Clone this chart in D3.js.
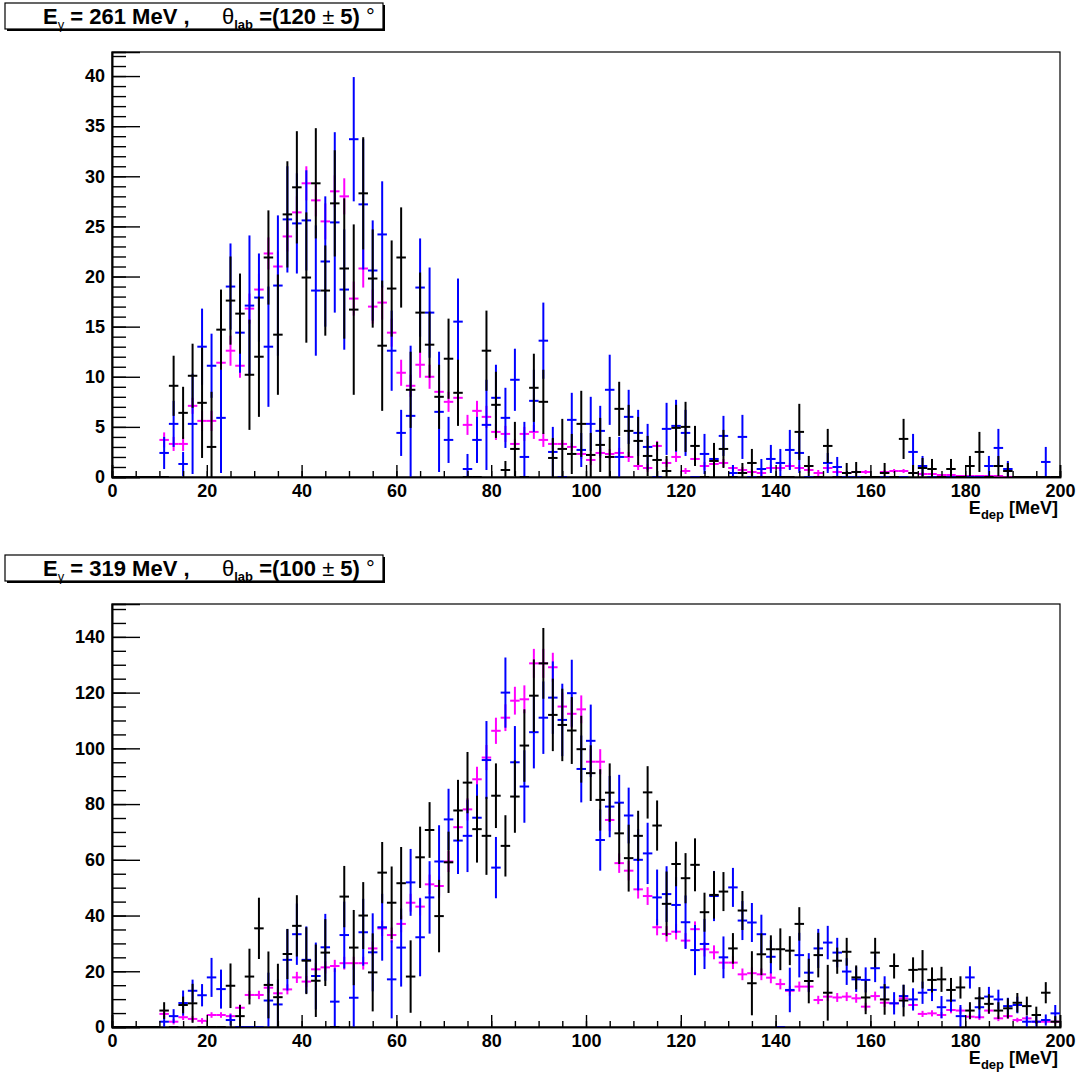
<!DOCTYPE html>
<html>
<head>
<meta charset="utf-8">
<script src="https://cdn.jsdelivr.net/npm/d3@7"></script>
<style>
  body { margin: 0; background: #fff; }
  svg { display: block; }
  text { white-space: pre; }
</style>
</head>
<body>
<script>
// ---- Histogram contents: 2 MeV bins, first filled bin centred at 11 MeV ----
const firstCenter = 11;
const binWidth = 2;

const xTicks = [0, 20, 40, 60, 80, 100, 120, 140, 160, 180, 200];
const topYTicks = [0, 5, 10, 15, 20, 25, 30, 35, 40];
const botYTicks = [0, 20, 40, 60, 80, 100, 120, 140];

// E_gamma = 261 MeV, theta = 120 deg
const topBlack = [
  0, 9.1, 6.4, 10.1, 7.4, 3.0, 14.7, 17.6, 16.3, 10.2,        // 11-29
  12.0, 21.9, 14.2, 26.2, 28.9, 19.9, 29.3, 18.6, 27.3, 20.8, // 31-49
  16.7, 28.3, 19.8, 13.1, 18.8, 21.9, 8.7, 16.4, 13.2, 8.0,   // 51-69
  11.8, 8.4, 0, 0, 12.6, 7.2, 0.7, 2.8, 0, 8.9,               // 71-89
  7.5, 1.9, 2.8, 2.3, 5.3, 2.2, 3.2, 2.0, 6.8, 4.6,           // 91-109
  3.6, 2.1, 1.7, 0.6, 4.9, 5.0, 3.1, 0, 1.6, 2.8,             // 111-129
  0, 0.4, 1.4, 0, 0, 0, 0, 4.5, 1.1, 0,                       // 131-149
  3.1, 0, 0.4, 0.5, 0, 0, 0.4, 0, 3.8, 0.4,                   // 151-169
  0.9, 0.8, 0, 0.8, 0, 1.1, 2.5, 0, 1.1, 0.6,                 // 171-189
  0, 0, 0, 0, 0                                               // 191-199
];
const topBlackErr = [
  0, 3.0, 2.6, 3.2, 5.5, 5.5, 4.0, 4.4, 4.0, 5.5,
  6.0, 4.7, 6.0, 5.3, 5.6, 6.5, 5.5, 4.5, 5.3, 7.0,
  8.5, 5.6, 4.9, 6.5, 4.8, 5.0, 3.8, 4.0, 3.3, 3.2,
  4.0, 3.3, 0, 0, 4.0, 3.3, 0.9, 2.7, 0, 3.4,
  3.2, 2.0, 3.0, 2.0, 3.3, 2.2, 2.7, 2.0, 2.7, 2.6,
  2.4, 2.0, 1.8, 1.5, 2.3, 2.5, 2.0, 0, 1.8, 1.9,
  0, 1.0, 1.4, 0, 0, 0, 0, 2.8, 1.0, 0,
  1.7, 0, 1.0, 1.0, 0, 0, 1.0, 0, 2.0, 0.8,
  1.0, 1.0, 0, 1.0, 0, 1.0, 2.0, 0, 1.0, 0.8,
  0, 0, 0, 0, 0
];
const topBlue = [
  2.4, 5.3, 1.3, 5.3, 13.0, 11.1, 5.9, 19.0, 14.4, 17.1,
  17.9, 13.0, 19.1, 25.7, 25.3, 25.6, 18.6, 21.5, 25.4, 18.7,
  33.7, 27.2, 20.6, 24.2, 12.6, 4.4, 6.1, 18.9, 16.4, 6.5,
  3.7, 15.5, 0.8, 3.7, 5.2, 7.9, 5.9, 9.7, 2.0, 7.6,
  13.6, 2.5, 0, 5.7, 2.7, 5.3, 4.6, 8.7, 2.0, 6.0,
  4.4, 3.0, 0, 4.8, 5.1, 4.4, 0, 2.3, 1.8, 4.1,
  0.4, 4.0, 0, 0.8, 1.8, 1.4, 2.7, 2.4, 0, 0,
  1.4, 1.0, 0, 0, 0, 0, 0, 0, 0, 2.5,
  1.1, 0, 0, 0, 0, 0, 0, 1.1, 2.9, 0.8,
  0, 0, 0, 1.5, 0
];
const topBlueErr = [
  1.6, 2.3, 1.2, 5.0, 3.8, 3.2, 5.5, 4.3, 4.0, 7.0,
  4.4, 6.0, 7.0, 5.3, 5.0, 5.0, 6.5, 6.5, 9.0, 6.0,
  6.2, 6.5, 5.0, 5.3, 4.0, 2.3, 7.0, 4.9, 4.5, 6.0,
  2.3, 4.3, 1.5, 2.3, 4.5, 3.3, 3.0, 3.1, 3.5, 3.1,
  3.8, 2.5, 0, 2.7, 1.7, 2.7, 2.5, 3.5, 2.0, 2.7,
  2.3, 2.3, 0, 2.6, 2.6, 2.3, 0, 2.0, 1.5, 2.0,
  0.8, 2.2, 0, 1.0, 1.4, 1.4, 2.0, 2.0, 0, 0,
  1.0, 1.0, 0, 0, 0, 0, 0, 0, 0, 1.8,
  1.0, 0, 0, 0, 0, 0, 0, 1.0, 1.9, 0.8,
  0, 0, 0, 1.5, 0
];
const topMagenta = [
  3.7, 3.3, 3.3, 7.1, 5.6, 5.6, 11.4, 12.6, 11.1, 16.8,
  18.7, 22.3, 21.0, 24.0, 26.4, 29.3, 27.6, 25.5, 28.5, 28.0,
  17.8, 20.8, 17.0, 17.4, 14.4, 10.4, 9.1, 11.2, 10.0, 8.5,
  7.5, 7.9, 5.2, 6.6, 6.0, 4.5, 4.3, 3.3, 4.3, 4.5,
  3.7, 3.3, 3.3, 3.0, 2.3, 1.7, 2.4, 2.3, 2.4, 2.0,
  1.1, 0.9, 3.1, 1.4, 2.0, 0.6, 1.8, 1.1, 1.3, 1.4,
  0.9, 0.7, 0.5, 0.4, 0.9, 0.9, 1.1, 0.9, 0.7, 0.4,
  0.9, 0.5, 0.4, 0.5, 0.5, 0, 0.5, 0.6, 0.6, 0.4,
  0.3, 0.3, 0.2, 0.2, 0.1, 0.1, 0.1, 0.1, 0.1, 0,
  0, 0, 0, 0, 0
];
const topMagentaErr = [
  0.75, 0.7, 0.7, 0.8, 1.0, 1.0, 1.2, 1.5, 1.2, 1.5,
  1.6, 1.6, 1.5, 1.5, 1.6, 1.7, 1.6, 1.8, 1.6, 1.8,
  1.7, 1.9, 1.7, 1.7, 1.4, 1.3, 1.1, 1.3, 1.2, 1.0,
  1.0, 0.5, 1.0, 1.0, 1.1, 0.8, 0.8, 0.5, 0.7, 0.7,
  0.7, 0.5, 0.4, 0.4, 0.5, 0.5, 0.5, 0.5, 0.5, 0.5,
  0.4, 0.4, 0.5, 0.4, 0.5, 0.3, 0.4, 0.4, 0.4, 0.4,
  0.3, 0.3, 0.3, 0.3, 0.3, 0.3, 0.3, 0.3, 0.3, 0.3,
  0.3, 0.2, 0.2, 0.2, 0.2, 0, 0.2, 0.2, 0.2, 0.2,
  0.2, 0.2, 0.1, 0.1, 0.1, 0.1, 0.1, 0.1, 0.1, 0,
  0, 0, 0, 0, 0
];

// E_gamma = 319 MeV, theta = 100 deg
const botBlack = [
  5.9, 0, 7.9, 8.5, 0, 0, 0, 14.8, 3.9, 18.1,
  35.4, 15.1, 10.7, 26.2, 36.3, 23.8, 16.6, 26.7, 0, 46.8,
  28.5, 40.0, 19.6, 55.4, 44.6, 51.6, 18.1, 60.9, 70.7, 39.8,
  59.1, 77.7, 87.7, 71.0, 68.6, 83.0, 65.0, 82.7, 101.0, 118.9,
  130.5, 112.0, 108.4, 106.4, 99.7, 91.1, 81.5, 84.1, 69.5, 60.6,
  68.6, 84.2, 72.3, 44.2, 58.5, 53.4, 58.2, 41.2, 47.4, 48.6,
  28.2, 41.8, 15.7, 26.1, 27.9, 27.9, 27.4, 37.0, 16.5, 25.8,
  12.3, 23.8, 27.0, 17.8, 10.6, 26.7, 9.9, 21.9, 9.5, 20.5,
  20.7, 16.9, 17.1, 13.3, 14.2, 5.9, 10.3, 8.3, 5.9, 6.7,
  8.7, 7.5, 4.3, 12.3, 1.9
];
const botBlackErr = [
  3.0, 0, 3.0, 7.0, 0, 0, 0, 8.0, 4.0, 10.0,
  11, 12, 12, 9, 11, 12, 13, 12, 0, 11,
  13.5, 12, 14, 11, 13, 13, 13, 11, 10, 13,
  11, 11, 11, 12, 14, 11.6, 11, 13, 13, 13,
  12.7, 13, 13, 12, 12, 10, 11, 10.5, 11, 12,
  9, 9.4, 9, 11.6, 8, 9, 9.5, 7, 8.5, 7,
  5.5, 7, 11.5, 7.5, 5, 7.5, 5.2, 6, 8, 8,
  10, 4.7, 5, 4.3, 6, 5.3, 5.5, 4.5, 5.7, 4.5,
  6.9, 4.5, 4.5, 4.3, 4.0, 3, 4, 3.5, 3, 3.6,
  3.5, 3.4, 3, 3.8, 2
];
const botBlue = [
  1.9, 3.9, 8.6, 13.0, 11.4, 17.8, 13.6, 2.5, 0, 0,
  0, 9.5, 8.1, 24.1, 33.3, 24.1, 18.3, 28.6, 9.1, 33.0,
  10.5, 34.0, 26.8, 35.8, 17.1, 28.5, 51.9, 32.2, 46.5, 59.4,
  74.5, 66.9, 68.6, 75.1, 95.8, 57.2, 120.0, 95.0, 86.3, 105.8,
  111.0, 118.2, 110.2, 119.8, 92.6, 102.7, 67.1, 79.1, 80.5, 75.9,
  60.0, 62.3, 46.5, 47.7, 43.8, 37.6, 27.6, 29.8, 47.0, 25.0,
  50.1, 38.2, 37.5, 33.3, 25.2, 0, 13.3, 25.8, 19.5, 28.2,
  30.3, 26.7, 19.9, 17.1, 16.9, 21.1, 14.2, 8.5, 11.1, 9.9,
  12.3, 13.3, 7.1, 9.5, 3.9, 17.8, 7.1, 10.9, 9.9, 7.5,
  7.9, 1.9, 1.9, 2.5, 4.9
];
const botBlueErr = [
  2, 2.5, 4.5, 4, 4, 7, 7, 2, 0, 0,
  0, 10, 9, 11, 11, 12, 12, 12, 12, 12,
  12, 12, 14, 12, 14, 14, 12, 14, 13, 13,
  11, 12, 13, 12, 14, 11, 12.6, 13, 13, 13,
  13, 13, 13, 12, 12, 13, 11, 11, 10, 10,
  11, 11, 10, 10, 10, 9.6, 9, 9, 9, 7.5,
  7, 7, 7, 7, 6, 0, 8, 8, 7, 7,
  6, 5.3, 4.8, 4.5, 4.5, 5, 4, 4, 4, 4,
  4, 4, 4, 4, 4, 4, 4, 3.5, 3.5, 3,
  3, 2, 2, 2, 3
];
const botMagenta = [
  4.7, 1.9, 3.5, 2.9, 2.2, 4.3, 4.3, 3.9, 6.9, 11.5,
  11.5, 14.1, 12.1, 13.5, 17.8, 16.3, 20.7, 21.4, 21.9, 22.9,
  22.9, 22.9, 28.2, 35.4, 33.0, 37.0, 44.6, 43.2, 51.2, 50.6,
  59.4, 71.7, 78.1, 88.9, 96.7, 106.3, 111.0, 117.1, 117.6, 130.5,
  130.5, 129.1, 115.0, 112.4, 114.0, 95.2, 95.2, 74.3, 58.8, 56.1,
  49.4, 47.0, 35.8, 33.4, 34.2, 31.0, 35.1, 27.9, 26.8, 23.1,
  23.1, 18.9, 19.3, 18.9, 17.7, 15.4, 13.0, 14.5, 14.5, 9.7,
  10.9, 10.6, 10.9, 10.3, 7.3, 11.1, 8.7, 8.5, 10.3, 7.9,
  4.7, 4.9, 4.3, 6.1, 5.9, 3.7, 3.5, 5.9, 3.1, 3.9,
  2.5, 3.1, 1.9, 1.9, 1.9
];
const botMagentaErr = [
  1, 1, 1, 1, 1, 1, 1, 1, 1.2, 1.5,
  1.5, 1.8, 1.8, 1.8, 2, 2, 2.2, 2.2, 2.2, 2.3,
  2.3, 2.3, 2.5, 2.8, 2.7, 3, 3.2, 3.2, 3.5, 3.5,
  3.8, 4, 4, 4.5, 4.5, 4.7, 4.8, 5, 5, 5.2,
  5.2, 5.2, 5, 5, 5, 4.5, 4.5, 4, 3.5, 3.5,
  3.3, 3.2, 2.9, 2.8, 2.8, 2.7, 2.8, 2.6, 2.5, 2.3,
  2.3, 2.1, 2.1, 2.1, 2, 1.9, 1.8, 1.8, 1.8, 1.5,
  1.6, 1.6, 1.6, 1.6, 1.4, 1.6, 1.5, 1.5, 1.5, 1.4,
  1.1, 1.1, 1.1, 1.2, 1.2, 1, 1, 1.2, 1, 1,
  0.8, 0.9, 0.8, 0.8, 0.8
];

// ---- drawing ----
const W = 1080, H = 1078;
const FONT = '"Liberation Sans", Arial, Helvetica, sans-serif';
const COLORS = { black: "#000000", blue: "#0000ff", magenta: "#ff00ff" };

const svg = d3.select("body").append("svg")
  .attr("width", W).attr("height", H)
  .attr("font-family", FONT);

function drawPanel(cfg) {
  const g = svg.append("g");
  const x = d3.scaleLinear().domain([0, 200]).range([112, 1060]);
  const y = d3.scaleLinear().domain([0, cfg.yMax]).range([cfg.bottom, cfg.top]);

  // frame
  g.append("rect")
    .attr("x", x(0)).attr("y", cfg.top)
    .attr("width", x(200) - x(0)).attr("height", cfg.bottom - cfg.top)
    .attr("fill", "none").attr("stroke", "#000").attr("stroke-width", 1.2);

  // series: magenta, blue, black (black on top)
  const series = [
    { v: cfg.magenta, e: cfg.magentaErr, c: COLORS.magenta },
    { v: cfg.blue, e: cfg.blueErr, c: COLORS.blue },
    { v: cfg.black, e: cfg.blackErr, c: COLORS.black }
  ];
  series.forEach(s => {
    const sg = g.append("g").attr("stroke", s.c).attr("stroke-width", 2).attr("fill", "none");
    // empty bins below the first filled one
    sg.append("line")
      .attr("x1", x(0)).attr("x2", x(firstCenter - binWidth / 2))
      .attr("y1", y(0)).attr("y2", y(0));
    const bins = s.v.map((v, i) => ({ c: firstCenter + i * binWidth, v, e: s.e[i] }));
    sg.selectAll("line.h").data(bins).join("line").attr("class", "h")
      .attr("x1", d => x(d.c - binWidth / 2)).attr("x2", d => x(d.c + binWidth / 2))
      .attr("y1", d => y(d.v)).attr("y2", d => y(d.v));
    sg.selectAll("line.v").data(bins.filter(d => d.e > 0)).join("line").attr("class", "v")
      .attr("x1", d => x(d.c)).attr("x2", d => x(d.c))
      .attr("y1", d => y(Math.max(0, d.v - d.e)))
      .attr("y2", d => y(Math.min(cfg.yMax, d.v + d.e)));
  });

  // y axis: minor then major ticks pointing inward
  const yMinor = d3.range(0, cfg.yMax + 1e-9, cfg.yMinorStep);
  const ya1 = g.append("g").attr("transform", `translate(${x(0)},0)`)
    .call(d3.axisLeft(y).tickValues(yMinor).tickSize(-14).tickFormat(""));
  const ya2 = g.append("g").attr("transform", `translate(${x(0)},0)`)
    .call(d3.axisLeft(y).tickValues(cfg.yTicks).tickSize(-28).tickPadding(7).tickFormat(d3.format("d")));
  // x axis
  const xMinor = d3.range(0, 200.001, 5);
  const xa1 = g.append("g").attr("transform", `translate(0,${cfg.bottom})`)
    .call(d3.axisBottom(x).tickValues(xMinor).tickSize(-6).tickFormat(""));
  const xa2 = g.append("g").attr("transform", `translate(0,${cfg.bottom})`)
    .call(d3.axisBottom(x).tickValues(xTicks).tickSize(-12).tickPadding(7).tickFormat(d3.format("d")));

  [ya1, ya2, xa1, xa2].forEach(a => {
    a.attr("font-family", FONT).attr("font-size", 18).attr("font-weight", "bold");
    a.select(".domain").attr("stroke-width", 1.6);
    a.selectAll(".tick line").attr("stroke-width", 1.4);
    a.selectAll("text").attr("fill", "#000");
  });

  // x axis title
  const xt = g.append("text")
    .attr("x", 1058).attr("y", cfg.bottom + 37)
    .attr("text-anchor", "end").attr("font-weight", "bold").attr("font-size", 18);
  xt.append("tspan").text("E");
  xt.append("tspan").attr("font-size", 13).attr("dy", 5).text("dep");
  xt.append("tspan").attr("dy", -5).text(" [MeV]");

  // title box with shadow
  const ty = cfg.titleY;
  g.append("rect").attr("x", 7).attr("y", ty + 2).attr("width", 378).attr("height", 26).attr("fill", "#000");
  g.append("rect").attr("x", 5).attr("y", ty).attr("width", 378).attr("height", 26)
    .attr("fill", "#fff").attr("stroke", "#000").attr("stroke-width", 1.2);
  const t = g.append("text").attr("x", 43).attr("y", ty + 21)
    .attr("font-size", 22).attr("font-weight", "bold");
  t.append("tspan").text("E");
  t.append("tspan").attr("font-size", 13).attr("font-weight", "normal").attr("dy", 5).text("γ");
  t.append("tspan").attr("dy", -5).text(` = ${cfg.energy} MeV ,`);
  t.append("tspan").attr("x", 222).attr("font-weight", "normal").text("θ");
  t.append("tspan").attr("font-size", 13).attr("dy", 5).text("lab");
  t.append("tspan").attr("dy", -5).text(` =(${cfg.angle}`);
  t.append("tspan").attr("font-weight", "normal").text(" ± ");
  t.append("tspan").text("5) ");
  t.append("tspan").attr("font-weight", "normal").text("°");
}

drawPanel({
  top: 52, bottom: 477, yMax: 42.4, yMinorStep: 1, yTicks: topYTicks,
  black: topBlack, blackErr: topBlackErr,
  blue: topBlue, blueErr: topBlueErr,
  magenta: topMagenta, magentaErr: topMagentaErr,
  titleY: 3, energy: 261, angle: 120
});
drawPanel({
  top: 604, bottom: 1027, yMax: 151.8, yMinorStep: 5, yTicks: botYTicks,
  black: botBlack, blackErr: botBlackErr,
  blue: botBlue, blueErr: botBlueErr,
  magenta: botMagenta, magentaErr: botMagentaErr,
  titleY: 555, energy: 319, angle: 100
});
</script>
</body>
</html>
